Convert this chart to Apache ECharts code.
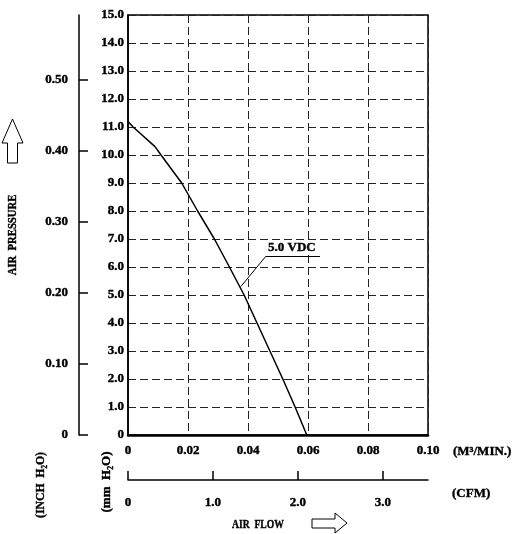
<!DOCTYPE html>
<html>
<head>
<meta charset="utf-8">
<script src="https://cdn.jsdelivr.net/npm/echarts@6/dist/echarts.min.js"></script>
<style>
  html, body { margin: 0; padding: 0; background: #fff; }
  #chart { width: 515px; height: 534px; }
</style>
</head>
<body>
<div id="chart"></div>
<script>
// air flow (M3/MIN.) vs static pressure (mm H2O)
var flowM3 = [0, 0.0017, 0.009, 0.011, 0.0179, 0.0232, 0.0288, 0.0338, 0.0387, 0.0430, 0.0473, 0.0516, 0.0557, 0.0596];
var pressMm = [11.2, 11.0, 10.3, 10.0, 9.0, 8.0, 7.0, 6.0, 5.0, 4.0, 3.0, 2.0, 1.0, 0];

var inchTicks = [0, 0.1, 0.2, 0.3, 0.4, 0.5];
var cfmTicks = [0, 1, 2, 3];
var curveName = '5.0 VDC';
// leader line of the curve label, in data units
var leader = [[0.0376, 5.3], [0.046, 6.39], [0.064, 6.39]];

var MM_PER_INCH = 25.4;
var M3_PER_CFM = 0.0283168;

var font = 'Liberation Serif';
// axis labels
var txt = { color: '#000', fontFamily: font, fontWeight: 'bold', fontSize: 13, textBorderColor: '#000', textBorderWidth: 0.4 };
// graphic texts
var gtxt = { fill: '#000', stroke: '#000', lineWidth: 0.4, fontFamily: font, fontWeight: 'bold', fontSize: 13 };

var points = [];
for (var i = 0; i < flowM3.length; i++) {
  points.push([flowM3[i], pressMm[i]]);
}

function label(text, x, y, sx, extra) {
  return {
    type: 'text', x: x, y: y, scaleX: sx,
    style: Object.assign({ text: text, verticalAlign: 'middle' }, gtxt, extra || {})
  };
}
function rotated(text, x, y, sx) {
  var el = label(text, x, y, sx, { align: 'center' });
  el.rotation = Math.PI / 2;
  return el;
}

var chart = echarts.init(document.getElementById('chart'));
chart.setOption({
  animation: false,
  backgroundColor: '#fff',
  grid: [
    { left: 128, top: 15, width: 300, height: 420, show: true, borderColor: '#000', borderWidth: 1.5 },
    { left: 79, top: 15, width: 10, height: 420 },
    { left: 128, top: 470, width: 300, height: 10 }
  ],
  xAxis: [
    {
      gridIndex: 0, type: 'value', min: 0, max: 0.1, interval: 0.02,
      axisLine: { lineStyle: { color: '#000', width: 2.5 } },
      axisTick: { show: false },
      axisLabel: Object.assign({ margin: 9, formatter: function (v) { return v === 0 ? '0' : v.toFixed(2); } }, txt),
      splitLine: { lineStyle: { color: '#222', type: [8, 4], width: 1 } }
    },
    { gridIndex: 1, type: 'value', show: false },
    {
      gridIndex: 2, type: 'value', min: 0, max: 0.1 / M3_PER_CFM,
      axisLine: { lineStyle: { color: '#000', width: 1.5 } },
      axisTick: { inside: true, length: 9, customValues: cfmTicks, lineStyle: { color: '#000', width: 1.5 } },
      axisLabel: Object.assign({ margin: 16, customValues: cfmTicks, formatter: function (v) { return v === 0 ? '0' : v.toFixed(1); } }, txt),
      splitLine: { show: false }
    }
  ],
  yAxis: [
    {
      gridIndex: 0, type: 'value', min: 0, max: 15, interval: 1,
      axisLine: { show: true, lineStyle: { color: '#000', width: 1.5 } },
      axisTick: { show: false },
      axisLabel: Object.assign({ margin: 4, formatter: function (v) { return v === 0 ? '0' : v.toFixed(1); } }, txt),
      splitLine: { lineStyle: { color: '#222', type: [8, 4], width: 1 } }
    },
    {
      gridIndex: 1, type: 'value', position: 'left', min: 0, max: 15 / MM_PER_INCH,
      axisLine: { show: true, lineStyle: { color: '#000', width: 1.5 } },
      axisTick: { inside: true, length: 9, customValues: inchTicks, lineStyle: { color: '#000', width: 1.5 } },
      axisLabel: Object.assign({ margin: 11, customValues: inchTicks, formatter: function (v) { return v === 0 ? '0' : v.toFixed(2); } }, txt),
      splitLine: { show: false }
    },
    { gridIndex: 2, type: 'value', show: false }
  ],
  series: [
    {
      name: curveName,
      type: 'line',
      xAxisIndex: 0, yAxisIndex: 0,
      data: points,
      symbol: 'none',
      lineStyle: { color: '#000', width: 1.5 },
      markLine: {
        silent: true,
        symbol: 'none',
        label: { show: false },
        lineStyle: { color: '#000', width: 1, type: 'solid' },
        data: [
          [{ coord: leader[0] }, { coord: leader[1] }],
          [{ coord: leader[1] }, { coord: leader[2] }]
        ]
      }
    }
  ],
  graphic: [
    label(curveName, 268, 248, 1),
    label('(M³/MIN.)', 453, 452, 1),
    label('(CFM)', 452, 494, 1),
    label('AIR  FLOW', 232, 525, 0.74),
    rotated('AIR  PRESSURE', 13, 235, 0.82),
    rotated('(INCH  H₂O)', 41, 485, 0.9),
    rotated('(mm  H₂O)', 107, 482, 1),
    {
      type: 'polygon',
      shape: { points: [[12.5, 119], [23, 143], [17.5, 143], [17.5, 163], [7.5, 163], [7.5, 143], [2, 143]] },
      style: { fill: '#fff', stroke: '#000', lineWidth: 1 }
    },
    {
      type: 'polygon',
      shape: { points: [[312, 519], [335, 519], [335, 513], [347, 523], [335, 533], [335, 528], [312, 528]] },
      style: { fill: '#fff', stroke: '#000', lineWidth: 1 }
    }
  ]
});
</script>
</body>
</html>
